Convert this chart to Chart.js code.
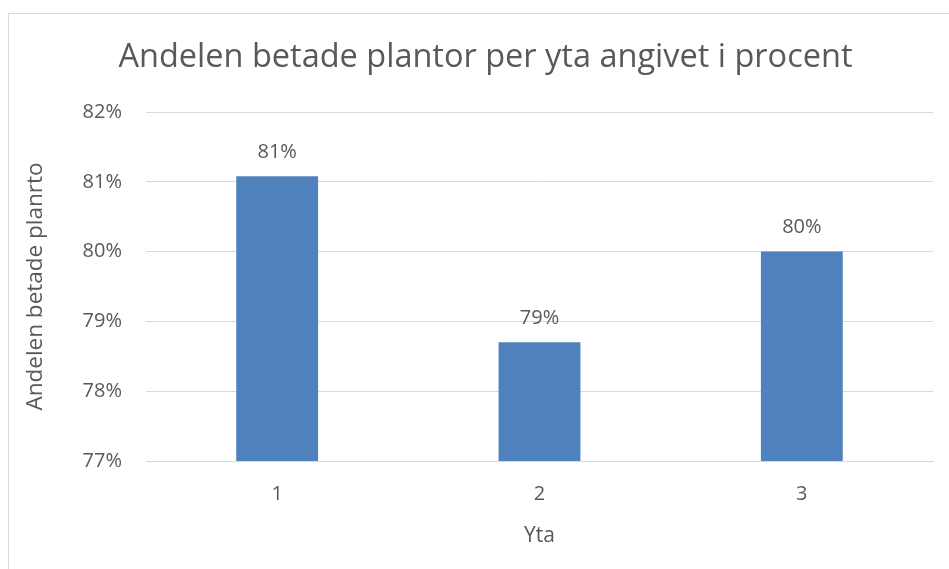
<!DOCTYPE html>
<html>
<head>
<meta charset="utf-8">
<script src="https://cdn.jsdelivr.net/npm/chart.js@4"></script>
<style>
  html, body { margin: 0; padding: 0; background: #fff; }
  #wrap { position: relative; width: 949px; height: 569px; overflow: hidden; }
  #frame { position: absolute; left: 8px; top: 13px; width: 960px; height: 600px;
           border-top: 1px solid #d9d9d9; border-left: 1px solid #d9d9d9; }
  canvas { position: absolute; left: 0; top: 0; }
</style>
</head>
<body>
<div id="wrap">
  <div id="frame"></div>
  <canvas id="graphCanvas" width="949" height="569"></canvas>
</div>
<script>
// data
var Yta = ["1", "2", "3"];
var Andel = [81.08, 78.7, 80.0];
var yMin = 77, yMax = 82, yStep = 1;

var grey = "#595959";
var font = "'Open Sans', 'Noto Sans', sans-serif";

// value labels above the bars, rounded like the original
var barLabels = {
    id: "barLabels",
    afterDatasetsDraw: function(chart){
        var ctx = chart.ctx;
        var meta = chart.getDatasetMeta(0);
        ctx.save();
        ctx.fillStyle = grey;
        ctx.font = "20px " + font;
        ctx.textAlign = "center";
        ctx.textBaseline = "middle";
        for (var i = 0; i < meta.data.length; i++) {
            var bar = meta.data[i];
            ctx.fillText(Math.round(Andel[i]) + "%", bar.x, bar.y - 24);
        }
        ctx.restore();
    }
};

var chartdata = {
    labels: Yta,
    datasets: [{
        label: "Andel",
        data: Andel,
        backgroundColor: "#4f81bd",
        borderWidth: 0,
        barPercentage: 1,
        categoryPercentage: 0.312
    }]
};

var ctx = document.getElementById("graphCanvas");
var barGraph = new Chart(ctx, {
    type: "bar",
    data: chartdata,
    plugins: [barLabels],
    options: {
        responsive: false,
        animation: false,
        layout: { padding: { left: 38, right: 16, top: 0, bottom: 0 } },
        plugins: {
            legend: { display: false },
            tooltip: { enabled: false },
            title: {
                display: true,
                text: "Andelen betade plantor per yta angivet i procent",
                color: grey,
                font: { family: font, size: 32.5, weight: "normal", lineHeight: 1.2 },
                padding: { top: 38, bottom: 35 }
            }
        },
        scales: {
            x: {
                grid: { display: false },
                border: { display: true, color: "#d9d9d9" },
                ticks: { color: grey, font: { family: font, size: 20 }, padding: 13 },
                title: {
                    display: true, text: "Yta", color: grey,
                    font: { family: font, size: 21 },
                    padding: { top: 0, bottom: 20 }
                },
                afterFit: function(s){ s.height = 108; }
            },
            y: {
                min: yMin, max: yMax,
                grid: { color: "#d9d9d9", drawTicks: false },
                border: { display: false },
                ticks: {
                    stepSize: yStep, color: grey, padding: 24,
                    font: { family: font, size: 20 },
                    callback: function(v){ return v + "%"; }
                },
                title: {
                    display: true, text: "Andelen betade planrto", color: grey,
                    font: { family: font, size: 22.5 },
                    padding: { top: -16, bottom: 0 }
                },
                afterFit: function(s){ s.width = 108; }
            }
        }
    }
});
</script>
</body>
</html>
